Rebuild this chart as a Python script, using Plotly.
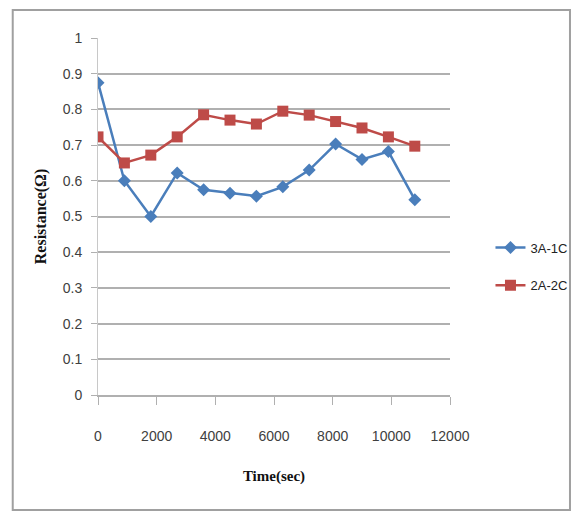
import plotly.graph_objects as go

time_sec = [0, 900, 1800, 2700, 3600, 4500, 5400, 6300, 7200, 8100, 9000, 9900, 10800]
res_3a1c = [0.875, 0.60, 0.50, 0.622, 0.575, 0.565, 0.557, 0.583, 0.63, 0.703, 0.66, 0.682, 0.547]
res_2a2c = [0.723, 0.65, 0.672, 0.723, 0.785, 0.77, 0.759, 0.795, 0.784, 0.766, 0.748, 0.723, 0.697]
x_ticks = [0, 2000, 4000, 6000, 8000, 10000, 12000]
x_tick_labels = ["0", "2000", "4000", "6000", "8000", "10000", "12000"]
y_ticks = [0, 0.1, 0.2, 0.3, 0.4, 0.5, 0.6, 0.7, 0.8, 0.9, 1]
y_tick_labels = ["0", "0.1", "0.2", "0.3", "0.4", "0.5", "0.6", "0.7", "0.8", "0.9", "1"]

tick_font = dict(family="Liberation Sans Narrow, Arial Narrow, Liberation Sans, sans-serif", size=14, color="#404040")
title_font_x = dict(family="Liberation Serif, Times New Roman, serif", size=15, color="#111111")
title_font_y = dict(family="Liberation Serif, Times New Roman, serif", size=16, color="#111111")

fig = go.Figure()
fig.add_trace(go.Scatter(
    x=time_sec, y=res_3a1c, name="3A-1C", mode="lines+markers", legendgroup="a",
    line=dict(color="#4a7ebb", width=2.5),
    marker=dict(symbol="diamond", size=10, color="#4a7ebb"),
))
fig.add_trace(go.Scatter(
    x=time_sec, y=res_2a2c, name="2A-2C", mode="lines+markers", legendgroup="b",
    line=dict(color="#be4b48", width=2.5),
    marker=dict(symbol="square", size=11, color="#be4b48"),
))

fig.update_layout(
    width=584, height=515,
    margin=dict(l=98, r=131, t=38, b=120),
    paper_bgcolor="white", plot_bgcolor="white",
    showlegend=True,
    legend=dict(x=1.115, y=0.36, xanchor="left", yanchor="middle",
                font=dict(family="Liberation Sans Narrow, Arial Narrow, Liberation Sans, sans-serif", size=13, color="#222222"),
                tracegroupgap=18, traceorder="grouped", bgcolor="rgba(0,0,0,0)"),
    xaxis=dict(range=[0, 12000], tickvals=x_ticks, ticktext=x_tick_labels, ticks="outside", ticklen=8,
               tickcolor="#b0b0b0", showgrid=False, showline=True, linecolor="#b0b0b0", linewidth=1.5,
               zeroline=False, tickfont=tick_font, ticklabelstandoff=19,
               title=dict(text="<b>Time(sec)</b>", font=title_font_x, standoff=28)),
    yaxis=dict(range=[0, 1], tickvals=y_ticks, ticktext=y_tick_labels, ticks="outside", ticklen=6,
               tickcolor="#b0b0b0", showgrid=True, gridcolor="#b0b0b0", gridwidth=1.5,
               showline=True, linecolor="#c8c8c8", linewidth=1, zeroline=False,
               tickfont=tick_font, ticklabelstandoff=6,
               title=dict(text="<b>Resistance(Ω)</b>", font=title_font_y, standoff=12)),
    shapes=[dict(type="rect", xref="paper", yref="paper",
                 x0=(12 - 98) / 355, x1=(574 - 98) / 355,
                 y0=(395 - 510) / 357, y1=(395 - 10) / 357,
                 line=dict(color="#a0a0a0", width=2), fillcolor="rgba(0,0,0,0)", layer="below")],
)

fig.write_html("out.html")
